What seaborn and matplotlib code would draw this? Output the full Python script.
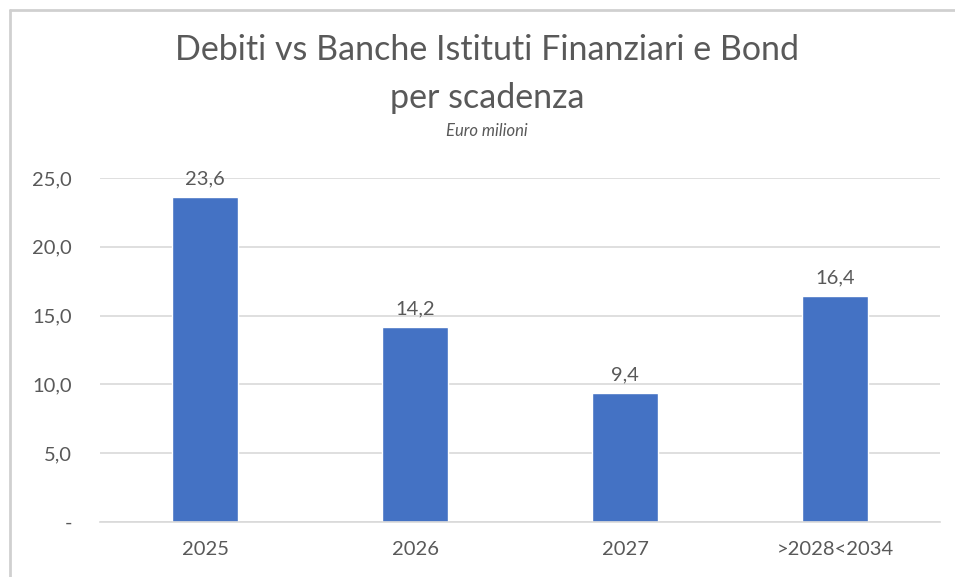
#!/usr/bin/env python3
"""Debiti vs banche, istituti finanziari e bond, per scadenza (bar chart)."""

import matplotlib

matplotlib.use("Agg")
import matplotlib.pyplot as plt
import pandas as pd
import seaborn as sns
from matplotlib.lines import Line2D
from matplotlib.ticker import FuncFormatter

scadenze = ["2025", "2026", "2027", ">2028<2034"]
importi = [23.6, 14.2, 9.4, 16.4]
y_ticks = [0, 5, 10, 15, 20, 25]

BAR_COLOR = "#4472C4"
TEXT_COLOR = "#595959"
GRID_COLOR = "#D9D9D9"


def fmt_it(v, _pos=None):
    if v == 0:
        return "-"
    return f"{v:.1f}".replace(".", ",")


def main() -> None:
    sns.set_theme(style="white")
    plt.rcParams["font.family"] = ["Lato", "DejaVu Sans"]

    df = pd.DataFrame({"scadenza": scadenze, "importo": importi})

    fig = plt.figure(figsize=(9.55, 5.77), dpi=100)
    ax = fig.add_axes([100 / 955, 1 - 522 / 577, 840 / 955, 344 / 577])

    sns.barplot(data=df, x="scadenza", y="importo", color=BAR_COLOR,
                saturation=1, width=0.315, ax=ax)

    ax.set_ylim(0, 25)
    ax.set_xlim(-0.5, len(scadenze) - 0.5)
    ax.set_yticks(y_ticks)
    ax.yaxis.set_major_formatter(FuncFormatter(fmt_it))
    ax.grid(axis="y", color=GRID_COLOR, linewidth=1.2)
    ax.set_axisbelow(True)
    for side in ("left", "right", "top"):
        ax.spines[side].set_visible(False)
    ax.spines["bottom"].set_color(GRID_COLOR)
    ax.spines["bottom"].set_linewidth(1.2)
    ax.set_xlabel("")
    ax.set_ylabel("")
    ax.tick_params(axis="y", colors=TEXT_COLOR, labelsize=14.5, length=0, pad=20)
    ax.tick_params(axis="x", colors=TEXT_COLOR, labelsize=14.5, length=0, pad=14)

    for container in ax.containers:
        ax.bar_label(container, labels=[fmt_it(v) for v in importi], padding=7,
                     fontsize=14.5, color=TEXT_COLOR)

    fig.text(0.51, 1 - 50 / 577, "Debiti vs Banche Istituti Finanziari e Bond",
             ha="center", va="center", fontsize=24.5, color=TEXT_COLOR)
    fig.text(0.51, 1 - 98 / 577, "per scadenza", ha="center", va="center",
             fontsize=24.5, color=TEXT_COLOR)
    fig.text(0.51, 1 - 131 / 577, "Euro milioni", ha="center", va="center",
             fontsize=12, style="italic", color=TEXT_COLOR)

    # light frame of the original chart area (top and left edges visible)
    fig.add_artist(Line2D([10 / 955, 10 / 955], [0, 1 - 10 / 577],
                          transform=fig.transFigure, color="#D0D0D0", linewidth=2))
    fig.add_artist(Line2D([10 / 955, 1], [1 - 10 / 577, 1 - 10 / 577],
                          transform=fig.transFigure, color="#D0D0D0", linewidth=2))

    fig.savefig("out.png", dpi=100, facecolor="white")
    plt.close(fig)


if __name__ == "__main__":
    main()
